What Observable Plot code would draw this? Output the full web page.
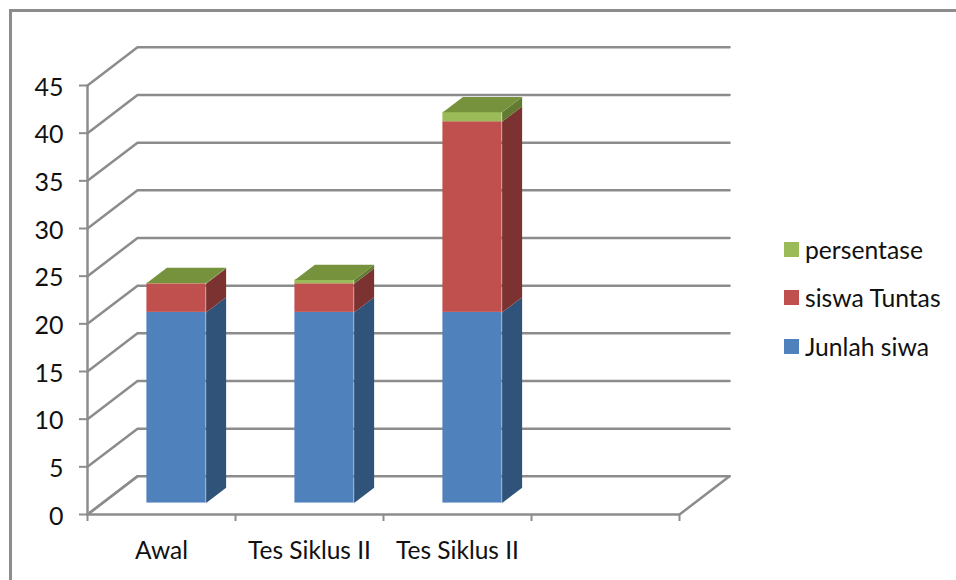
<!DOCTYPE html>
<html><head><meta charset="utf-8">
<script src="https://cdn.jsdelivr.net/npm/d3@7"></script>
<script src="https://cdn.jsdelivr.net/npm/@observablehq/plot@0.6"></script>
<style>
html,body{margin:0;padding:0;background:#fff;overflow:hidden}
#frame{position:absolute;left:9px;top:9px;width:947px;height:571px;border-top:3px solid #8c8c8c;border-left:3px solid #8c8c8c;box-sizing:border-box}
#chart{position:absolute;left:0;top:0}
#legend{position:absolute;left:784px;top:225px;font:24.7px Lato,sans-serif;color:#111}
#legend .row{display:flex;align-items:center;height:48.5px;white-space:nowrap}
#legend .sw{width:15px;height:15px;margin-right:6px;flex:none}
</style></head>
<body><div id="frame"></div><div id="chart"></div><div id="legend"></div>
<script>
const categories = ["Awal", "Tes Siklus II", "Tes Siklus II"];
const seriesNames = ["Junlah siwa", "siswa Tuntas", "persentase"];
const jumlahSiswa = [20, 20, 20];
const siswaTuntas = [3, 3, 20];
const persentase = [0.08, 0.4, 1];
const yTicks = [0, 5, 10, 15, 20, 25, 30, 35, 40, 45];
const slots = [0, 1, 2, 3, 4];
const floorEdges = [0, 4];
const frontColors = ["#4F81BD", "#C0504D", "#9BBB59"];
const sideColors = ["#305479", "#7B3230", "#637A33"];
const topColor = "#76923C";
const gridColor = "#8c8c8c";

// 3D projection: a depth of 1 moves the point along the floor's oblique axis
const depthX = 0.338, depthY = 4;
const P = (x, v, d) => ({x: x + d * depthX, y: v + d * depthY});
const barFront = 0.3, barBack = 0.7, barInset = 0.3;
const seriesValues = [jumlahSiswa, siswaTuntas, persentase];

const gridPts = [];
yTicks.forEach(v => {
  [P(0, v, 0), P(0, v, 1), P(4, v, 1)].forEach(p => gridPts.push({...p, z: "y" + v}));
});
const floorPts = [];
floorEdges.forEach(s => {
  [P(s, 0, 0), P(s, 0, 1)].forEach(p => floorPts.push({...p, z: "x" + s}));
});

const fronts = [], sides = [], tops = [];
categories.forEach((c, i) => {
  const x0 = i + barInset, x1 = x0 + 0.4;
  let base = 0;
  seriesValues.forEach((vals, k) => {
    const top = base + vals[i];
    const a = P(x0, base, barFront), b = P(x1, top, barFront);
    fronts.push({x1: a.x, x2: b.x, y1: a.y, y2: b.y, fill: frontColors[k]});
    [P(x1, base, barFront), P(x1, base, barBack), P(x1, top, barBack), P(x1, top, barFront)]
      .forEach(p => sides.push({...p, z: `${i}-${k}`, fill: sideColors[k]}));
    base = top;
  });
  [P(x0, base, barFront), P(x0, base, barBack), P(x1, base, barBack), P(x1, base, barFront)]
    .forEach(p => tops.push({...p, z: i}));
});

const plot = Plot.plot({
  width: 956, height: 580,
  marginLeft: 87, marginRight: 277, marginTop: 85, marginBottom: 66,
  style: {fontFamily: "Lato, sans-serif", background: "transparent", overflow: "visible"},
  x: {domain: [0, 4], axis: null},
  y: {domain: [0, 45], axis: null},
  marks: [
    Plot.line(gridPts, {x: "x", y: "y", z: "z", stroke: gridColor, strokeWidth: 2.5, curve: "linear"}),
    Plot.line(floorPts, {x: "x", y: "y", z: "z", stroke: gridColor, strokeWidth: 2.5, curve: "linear"}),
    Plot.ruleX([0], {y1: 0, y2: 45, stroke: gridColor, strokeWidth: 2.5}),
    Plot.ruleY([0], {x1: 0, x2: 4, stroke: gridColor, strokeWidth: 2.5}),
    Plot.axisY({ticks: yTicks, tickSize: 8, stroke: gridColor, strokeWidth: 2, strokeOpacity: 1,
      tickFormat: () => "", label: null, anchor: "left"}),
    Plot.axisY({ticks: yTicks, tickSize: 0, tickPadding: 24, dy: 2,
      fontSize: 25, fill: "#111", label: null, anchor: "left"}),
    Plot.axisX({ticks: slots, tickSize: 7, stroke: gridColor, strokeWidth: 2, strokeOpacity: 1,
      tickFormat: () => "", label: null, anchor: "bottom"}),
    Plot.axisX({ticks: categories.map((c, i) => i + 0.5), tickSize: 0, tickPadding: 27,
      tickFormat: t => categories[Math.floor(t)], fontSize: 24.5, fill: "#111", label: null, anchor: "bottom"}),
    Plot.rect(fronts, {x1: "x1", x2: "x2", y1: "y1", y2: "y2", fill: "fill"}),
    Plot.line(sides, {x: "x", y: "y", z: "z", fill: "fill", stroke: "none", curve: "linear"}),
    Plot.line(tops, {x: "x", y: "y", z: "z", fill: topColor, stroke: "none", curve: "linear"})
  ]
});
document.getElementById("chart").appendChild(plot);

const legend = d3.select("#legend");
seriesNames.map((n, i) => ({n, c: frontColors[i]})).reverse().forEach(d => {
  const r = legend.append("div").attr("class", "row");
  r.append("div").attr("class", "sw").style("background", d.c);
  r.append("span").text(d.n);
});
</script></body></html>
